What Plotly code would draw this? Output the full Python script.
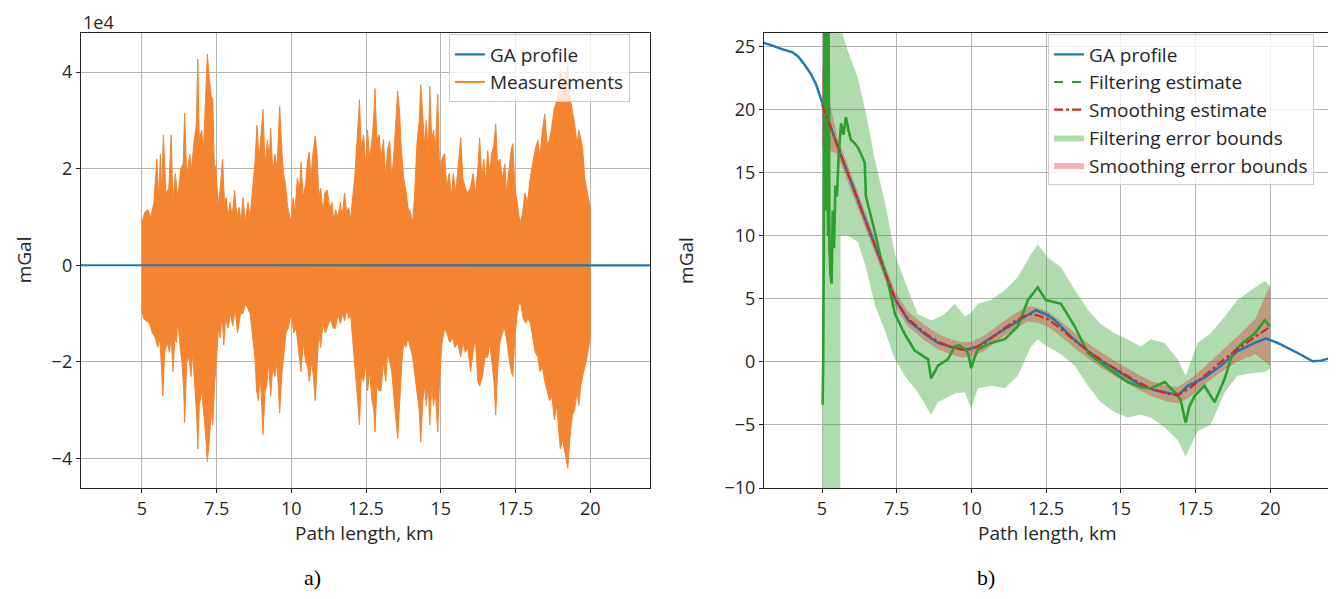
import plotly.graph_objects as go

# a) measurements: upper and lower edges of the point cloud, read off the picture (units of 1e4 mGal)
meas_top_x = [5.0, 5.1, 5.2, 5.3, 5.4, 5.5, 5.56, 5.62, 5.66, 5.72, 5.8, 5.9, 5.98, 6.04, 6.12, 6.2,
              6.3, 6.38, 6.43, 6.5, 6.6, 6.66, 6.75, 6.82, 6.87, 6.92, 7.0, 7.06, 7.12, 7.19, 7.25,
              7.32, 7.37, 7.42, 7.48, 7.55, 7.62, 7.7, 7.76, 7.82, 7.88, 7.95, 8.02, 8.1, 8.18,
              8.25, 8.32, 8.38, 8.46, 8.55, 8.62, 8.7, 8.78, 8.85, 8.92, 9.0, 9.05, 9.12, 9.2,
              9.26, 9.31, 9.38, 9.45, 9.52, 9.61, 9.68, 9.74, 9.8, 9.88, 9.99, 10.06, 10.12, 10.2,
              10.28, 10.32, 10.4, 10.48, 10.55, 10.6, 10.66, 10.72, 10.8, 10.86, 10.92, 10.98,
              11.06, 11.12, 11.2, 11.28, 11.36, 11.42, 11.48, 11.56, 11.64, 11.7, 11.78, 11.85,
              11.92, 11.98, 12.05, 12.12, 12.2, 12.28, 12.34, 12.42, 12.5, 12.55, 12.62, 12.7,
              12.76, 12.8, 12.86, 12.94, 13.0, 13.08, 13.16, 13.22, 13.29, 13.36, 13.42, 13.5,
              13.56, 13.62, 13.68, 13.76, 13.83, 13.9, 13.98, 14.06, 14.12, 14.2, 14.28, 14.33,
              14.4, 14.46, 14.52, 14.58, 14.63, 14.7, 14.76, 14.82, 14.9, 14.96, 15.04, 15.13,
              15.2, 15.28, 15.36, 15.42, 15.5, 15.58, 15.67, 15.74, 15.82, 15.9, 16.0, 16.08,
              16.16, 16.24, 16.3, 16.38, 16.44, 16.5, 16.57, 16.64, 16.7, 16.78, 16.84, 16.9,
              16.98, 17.06, 17.14, 17.2, 17.28, 17.36, 17.41, 17.48, 17.56, 17.62, 17.68, 17.74,
              17.82, 17.9, 18.0, 18.08, 18.16, 18.25, 18.32, 18.4, 18.48, 18.56, 18.64, 18.72,
              18.8, 18.88, 18.94, 19.0, 19.08, 19.16, 19.25, 19.32, 19.4, 19.48, 19.56, 19.62,
              19.68, 19.75, 19.82, 19.9, 19.96, 20.0]
meas_top = [0.9, 1.1, 1.15, 1.0, 1.3, 2.2, 1.4, 2.3, 1.5, 2.7, 1.5, 1.6, 2.7, 1.3, 1.9, 1.4,
            2.0, 2.1, 3.15, 1.8, 2.3, 2.0, 2.6, 2.9, 4.27, 2.6, 2.8, 2.4, 3.3, 4.37, 3.9,
            3.5, 3.45, 2.1, 2.0, 1.2, 1.6, 2.2, 1.3, 1.4, 1.0, 1.3, 1.0, 1.55, 1.0,
            1.2, 0.9, 1.4, 0.9, 1.3, 1.0, 1.6, 2.1, 2.9, 2.2, 2.8, 3.23, 2.1, 2.6,
            2.2, 2.84, 1.9, 2.3, 2.0, 3.29, 2.4, 1.9, 1.7, 1.2, 0.9, 1.4, 1.1, 1.8,
            1.6, 2.13, 1.4, 1.7, 2.2, 2.34, 1.8, 2.3, 2.68, 2.3, 1.4, 1.6,
            1.1, 1.5, 1.56, 1.2, 1.3, 0.9, 1.15, 1.0, 1.3, 1.0, 1.5, 1.1,
            1.2, 0.95, 1.4, 1.8, 2.6, 3.43, 2.4, 2.7, 2.0, 2.8, 2.2, 2.6,
            3.1, 3.66, 2.6, 2.7, 2.2, 2.6, 1.8, 2.4, 2.58, 1.8, 2.2, 3.1,
            3.6, 3.2, 2.4, 1.8, 1.56, 1.2, 1.1, 0.9, 1.4, 2.5, 3.0, 3.74,
            3.0, 2.5, 3.0, 2.2, 3.7, 2.6, 2.8, 2.4, 3.54, 2.0, 2.2, 2.32,
            1.6, 1.9, 1.4, 1.9, 1.5, 2.0, 2.64, 1.8, 1.6, 1.5, 1.62, 1.9,
            1.5, 2.0, 2.64, 1.8, 2.2, 1.7, 2.38, 1.9, 2.3, 2.5, 2.93, 2.1,
            2.2, 1.8, 2.1, 1.5, 2.0, 2.4, 2.52, 1.6, 1.3, 1.0, 0.9, 1.1,
            1.5, 1.3, 1.83, 2.1, 2.4, 2.6, 2.2, 2.8, 3.13, 2.5, 2.6, 2.9,
            3.25, 3.4, 3.6, 4.06, 3.7, 3.9, 4.15, 3.5, 3.2, 2.93, 2.5, 2.8,
            2.64, 2.4, 1.8, 1.5, 1.3, 1.2]

meas_bot_x = [5.0, 5.05, 5.15, 5.25, 5.35, 5.45, 5.53, 5.6, 5.66, 5.7, 5.76, 5.85, 5.92, 5.98,
              6.04, 6.1, 6.16, 6.2, 6.28, 6.34, 6.4, 6.43, 6.5, 6.58, 6.64, 6.7, 6.78, 6.84,
              6.87, 6.92, 7.0, 7.06, 7.12, 7.19, 7.26, 7.32, 7.37, 7.44, 7.5, 7.56, 7.62, 7.68,
              7.74, 7.8, 7.88, 7.96, 8.04, 8.12, 8.2, 8.3, 8.38, 8.46, 8.55, 8.62, 8.7, 8.78,
              8.84, 8.9, 8.96, 9.05, 9.12, 9.18, 9.24, 9.31, 9.38, 9.45, 9.52, 9.61, 9.68, 9.74,
              9.82, 9.9, 9.99, 10.08, 10.16, 10.24, 10.32, 10.4, 10.48, 10.55, 10.6, 10.68,
              10.74, 10.8, 10.86, 10.92, 10.98, 11.06, 11.14, 11.2, 11.3, 11.4, 11.48, 11.56,
              11.64, 11.72, 11.78, 11.86, 11.92, 11.98, 12.06, 12.14, 12.22, 12.28, 12.34, 12.42,
              12.5, 12.55, 12.62, 12.7, 12.76, 12.8, 12.86, 12.94, 13.0, 13.08, 13.16, 13.22,
              13.29, 13.36, 13.42, 13.5, 13.56, 13.62, 13.7, 13.76, 13.83, 13.9, 13.98, 14.06,
              14.14, 14.2, 14.28, 14.33, 14.4, 14.46, 14.52, 14.58, 14.63, 14.7, 14.76, 14.82,
              14.9, 14.96, 15.04, 15.13, 15.2, 15.3, 15.4, 15.47, 15.56, 15.67, 15.74, 15.82,
              15.9, 16.0, 16.08, 16.16, 16.24, 16.3, 16.4, 16.48, 16.57, 16.64, 16.72, 16.78,
              16.84, 16.9, 16.98, 17.06, 17.14, 17.22, 17.3, 17.36, 17.41, 17.48, 17.56, 17.62,
              17.68, 17.76, 17.84, 17.92, 18.0, 18.08, 18.16, 18.25, 18.32, 18.4, 18.48, 18.56,
              18.64, 18.72, 18.8, 18.88, 18.94, 19.0, 19.08, 19.16, 19.25, 19.32, 19.4, 19.48,
              19.56, 19.62, 19.68, 19.75, 19.82, 19.9, 19.96, 20.0]
meas_bot = [-0.9, -1.1, -1.15, -1.2, -1.4, -1.5, -1.7, -1.5, -2.2, -2.7, -1.8, -1.6, -1.8, -1.5,
            -2.2, -1.5, -1.6, -1.1, -1.7, -2.0, -2.6, -3.25, -2.0, -1.9, -2.3, -1.8, -2.6, -3.2,
            -3.8, -2.9, -2.6, -3.0, -3.4, -4.06, -3.6, -3.0, -3.3, -2.4, -1.9, -1.3, -1.5, -1.0,
            -1.65, -1.1, -1.3, -1.0, -1.25, -0.9, -1.4, -1.0, -1.0, -0.8, -0.9, -1.0, -1.5, -1.9,
            -2.6, -2.8, -2.2, -3.5, -2.6, -2.5, -2.0, -2.7, -2.1, -2.3, -2.0, -3.05, -2.3, -1.9,
            -1.4, -1.3, -1.0, -1.4, -1.3, -1.8, -2.2, -1.6, -2.0, -2.1, -2.4, -2.0,
            -2.3, -2.8, -2.2, -1.4, -1.7, -1.2, -1.4, -1.3, -1.1, -1.3, -1.3, -1.0,
            -1.2, -1.0, -1.15, -0.9, -1.1, -1.0, -1.6, -2.2, -2.8, -3.3, -2.3, -2.4,
            -2.0, -2.6, -2.2, -2.8, -3.0, -3.45, -2.5, -2.6, -2.6, -2.0, -2.4, -1.8,
            -2.0, -2.2, -2.6, -3.2, -3.58, -3.0, -2.0, -1.6, -1.7, -1.5, -1.7, -1.9,
            -2.2, -2.6, -3.0, -3.66, -2.8, -2.5, -2.9, -2.4, -3.3, -2.5, -2.9, -2.6,
            -3.45, -2.4, -1.6, -1.3, -1.4, -1.6, -1.5, -1.7, -1.6, -1.9, -1.6, -1.8,
            -1.7, -2.2, -1.8, -1.5, -2.4, -2.5, -2.3, -1.9, -1.9, -1.6, -2.0, -2.4,
            -3.1, -2.2, -1.6, -1.4, -1.3, -1.6, -2.0, -2.2, -2.3, -1.5, -1.0, -0.8,
            -0.8, -1.1, -1.2, -1.1, -1.2, -1.5, -1.8, -1.9, -2.2, -2.1, -2.4, -2.6,
            -2.8, -2.7, -3.2, -2.9, -3.3, -3.8, -3.6, -3.9, -4.2, -3.6, -3.1, -3.0,
            -2.6, -2.9, -2.5, -2.3, -2.1, -1.9, -1.7, -1.5]

# GA profile (mGal)
ga_x = [2.95, 3.3, 3.63, 4.0, 4.2, 4.4, 4.63, 4.8, 5.0, 5.5, 6.0, 6.5, 7.0, 7.44, 7.88, 8.44,
        8.88, 9.3, 9.6, 9.88, 10.2, 10.45, 11.12, 11.79, 12.16, 12.55, 12.79, 13.33, 13.9, 14.46,
        15.0, 15.57, 16.14, 16.67, 16.97, 17.24, 17.8, 18.35, 18.91, 19.48, 19.85, 20.25, 20.92,
        21.42, 21.7, 22.0]
ga_y = [25.35, 25.1, 24.8, 24.55, 24.2, 23.6, 22.8, 22.0, 20.6, 17.2, 14.1, 10.9, 7.8, 5.0, 3.3, 2.2,
        1.5, 1.2, 1.05, 1.0, 1.2, 1.6, 2.6, 3.6, 4.1, 3.7, 3.3, 2.0, 0.85, -0.1,
        -0.9, -1.7, -2.25, -2.5, -2.55, -1.9, -1.25, -0.3, 0.85, 1.5, 1.85, 1.5, 0.7,
        0.05, 0.1, 0.3]

# b) filtering estimate
fe_x = [5.02, 5.04, 5.06, 5.08, 5.1, 5.12, 5.15, 5.18, 5.2, 5.22, 5.25, 5.28, 5.32, 5.36, 5.4,
        5.45, 5.5, 5.56, 5.64, 5.72, 5.8, 5.9, 5.97, 6.1, 6.2, 6.32, 6.43, 6.47, 6.55, 6.64,
        6.8, 6.97, 7.2, 7.44, 7.77, 8.1, 8.38, 8.55, 8.65, 8.88, 9.21, 9.44, 9.6, 9.78, 9.9,
        9.99, 10.1, 10.22, 10.66, 11.12, 11.55, 11.89, 12.05, 12.22, 12.49, 13.0, 13.46, 13.9,
        14.33, 14.8, 15.23, 15.67, 16.0, 16.47, 16.8, 17.0, 17.17, 17.3, 17.47, 17.8, 18.14,
        18.48, 18.74, 19.08, 19.48, 19.82, 19.99]
fe_y = [-3.4, 0.0, 9.0, 27.0, 18.0, 12.0, 27.5, 15.0, 10.0, 26.5, 9.0, 7.0, 6.2, 12.0, 9.0,
        14.0, 13.1, 16.5, 18.9, 18.0, 19.4, 18.2, 17.6, 17.3, 17.0, 16.4, 15.8, 13.1, 12.4, 11.6,
        10.0, 8.2, 6.4, 3.8, 2.2, 0.9, 0.5, 0.2, -1.3, -0.3, 0.2, 1.2, 1.3, 1.0, 0.6,
        -0.5, 0.3, 1.0, 1.5, 1.8, 2.8, 4.9, 5.4, 5.9, 4.9, 4.6, 2.8, 0.7,
        -0.1, -0.9, -1.6, -2.0, -2.1, -1.6, -2.4, -3.0, -4.8, -3.5, -2.7, -1.9, -3.2,
        -1.3, 0.7, 1.5, 2.25, 3.3, 2.8]

# filtering error bounds
fb_x = [5.03, 5.05, 5.5, 5.6, 5.62, 5.87, 6.2, 6.47, 6.77, 7.1, 7.44, 7.77, 8.2, 8.65, 8.88,
        9.1, 9.44, 9.78, 9.99, 10.22, 10.66, 11.12, 11.55, 11.99, 12.22, 12.55, 13.0, 13.46,
        13.9, 14.33, 14.8, 15.23, 15.67, 16.0, 16.47, 16.9, 17.17, 17.57, 18.0, 18.48, 18.9,
        19.37, 19.82, 20.0]
fb_hi = [40, 40, 40, 27, 26.5, 24.6, 22.5, 19.7, 16.0, 12.7, 8.5, 6.4, 3.8, 3.3, 3.5,
         3.8, 4.6, 3.6, 3.9, 4.6, 4.9, 5.7, 6.7, 8.5, 9.3, 8.3, 7.5, 5.7,
         4.1, 3.0, 2.25, 1.8, 1.2, 1.8, 1.5, 0.2, -1.1, 1.5, 2.25, 3.6, 4.9,
         5.7, 6.4, 6.0]
fb_lo = [-40, -40, -40, -40, 10, 10, 9.5, 7.5, 4.5, 2.5, 0.2, -1.1, -2.4, -4.2, -3.2,
         -2.9, -2.5, -2.4, -3.7, -2.1, -1.9, -2.1, -1.1, 1.2, 1.8, 1.2, 0.6, -0.3,
         -1.9, -3.2, -4.0, -4.4, -4.2, -4.4, -5.2, -6.2, -7.5, -5.5, -5.0, -2.4, -1.1,
         -0.9, -0.8, -0.5]

# smoothing estimate and its error bounds
sm_x = [5.0, 5.5, 6.0, 6.5, 7.0, 7.44, 7.88, 8.44, 8.88, 9.3, 9.7, 10.0, 10.45, 11.12, 11.5, 11.9,
        12.2, 12.55, 13.0, 13.5, 14.0, 14.5, 15.0, 15.5, 16.0, 16.5, 16.9, 17.3, 17.8, 18.35,
        18.9, 19.5, 20.0]
sm_y = [20.4, 17.2, 14.1, 10.9, 7.8, 5.0, 3.4, 2.3, 1.6, 1.2, 0.95, 1.0, 1.5, 2.7, 3.3, 3.8,
        3.7, 3.4, 2.6, 1.6, 0.7, -0.1, -0.8, -1.5, -2.1, -2.5, -2.65, -2.1, -1.1, 0.0,
        1.0, 2.0, 2.8]
sb_lo = [17.0, 16.5, 13.5, 10.3, 7.2, 4.4, 2.8, 1.7, 1.0, 0.6, 0.35, 0.4, 0.9, 2.1, 2.7, 3.2,
         3.1, 2.8, 2.0, 1.0, 0.1, -0.7, -1.4, -2.1, -2.7, -3.1, -3.3, -2.8, -1.8, -0.8,
         0.0, 0.6, -0.3]
sb_hi = [23.5, 17.9, 14.7, 11.5, 8.4, 5.6, 4.0, 2.9, 2.2, 1.8, 1.55, 1.6, 2.1, 3.3, 3.9, 4.4,
         4.3, 4.0, 3.2, 2.2, 1.3, 0.5, -0.2, -0.9, -1.5, -1.9, -2.0, -1.4, -0.4, 0.8,
         2.0, 3.4, 6.1]

x_ticks = [5, 7.5, 10, 12.5, 15, 17.5, 20]

BLUE = '#1f77b4'
ORANGE = '#f4842f'
GREEN = '#2ca02c'
RED = '#d62728'
INK = '#262626'
FONT = 'Open Sans'
GREEN_FILL = 'rgba(44,160,44,0.38)'
RED_FILL = 'rgba(214,39,40,0.35)'

fig = go.Figure()

# ---- left panel
fig.add_trace(go.Scatter(x=meas_top_x + meas_bot_x[::-1], y=meas_top + meas_bot[::-1],
                         fill='toself', fillcolor=ORANGE, mode='lines',
                         line=dict(color=ORANGE, width=1), showlegend=False,
                         xaxis='x', yaxis='y'))
fig.add_trace(go.Scatter(x=ga_x, y=[v / 1e4 for v in ga_y], mode='lines',
                         line=dict(color=BLUE, width=2.2), name='GA profile',
                         xaxis='x', yaxis='y', legend='legend'))
fig.add_trace(go.Scatter(x=[None], y=[None], mode='lines', line=dict(color=ORANGE, width=2.2),
                         name='Measurements', xaxis='x', yaxis='y', legend='legend'))

# ---- right panel
fig.add_trace(go.Scatter(x=fb_x + fb_x[::-1], y=fb_hi + fb_lo[::-1], fill='toself',
                         fillcolor=GREEN_FILL, mode='lines', line=dict(width=0),
                         showlegend=False, xaxis='x2', yaxis='y2'))
fig.add_trace(go.Scatter(x=sm_x + sm_x[::-1], y=sb_hi + sb_lo[::-1], fill='toself',
                         fillcolor=RED_FILL, mode='lines', line=dict(width=0),
                         showlegend=False, xaxis='x2', yaxis='y2'))
fig.add_trace(go.Scatter(x=ga_x, y=ga_y, mode='lines', line=dict(color=BLUE, width=2.4),
                         showlegend=False, xaxis='x2', yaxis='y2'))
fig.add_trace(go.Scatter(x=fe_x, y=fe_y, mode='lines', line=dict(color=GREEN, width=2.6),
                         showlegend=False, xaxis='x2', yaxis='y2'))
fig.add_trace(go.Scatter(x=sm_x, y=sm_y, mode='lines',
                         line=dict(color=RED, width=2.2, dash='dashdot'),
                         showlegend=False, xaxis='x2', yaxis='y2'))

# legend-only entries for panel b
fig.add_trace(go.Scatter(x=[None], y=[None], mode='lines', line=dict(color=BLUE, width=2.2),
                         name='GA profile', xaxis='x2', yaxis='y2', legend='legend2'))
fig.add_trace(go.Scatter(x=[None], y=[None], mode='lines', line=dict(color=GREEN, width=2.2, dash='dash'),
                         name='Filtering estimate', xaxis='x2', yaxis='y2', legend='legend2'))
fig.add_trace(go.Scatter(x=[None], y=[None], mode='lines', line=dict(color=RED, width=2.2, dash='dashdot'),
                         name='Smoothing estimate', xaxis='x2', yaxis='y2', legend='legend2'))
fig.add_trace(go.Scatter(x=[None, None], y=[None, None], fill='toself', mode='lines', line=dict(width=0),
                         fillcolor=GREEN_FILL, name='Filtering error bounds',
                         xaxis='x2', yaxis='y2', legend='legend2'))
fig.add_trace(go.Scatter(x=[None, None], y=[None, None], fill='toself', mode='lines', line=dict(width=0),
                         fillcolor=RED_FILL, name='Smoothing error bounds',
                         xaxis='x2', yaxis='y2', legend='legend2'))

axis_style = dict(showline=True, mirror=True, linecolor=INK, linewidth=1.3,
                  ticks='outside', ticklen=4, tickcolor=INK, tickwidth=1.2,
                  showgrid=True, gridcolor='#b4b4b4', gridwidth=1, zeroline=False,
                  tickfont=dict(family=FONT, size=18, color=INK))

ydom = [0.1836, 0.9583]
legend_style = dict(yanchor='top', xanchor='right', y=0.955,
                    bgcolor='rgba(255,255,255,0.8)', bordercolor='#cccccc', borderwidth=1,
                    font=dict(family=FONT, size=19, color=INK))
fig.update_layout(
    width=1336, height=599,
    margin=dict(l=0, r=0, t=0, b=0),
    paper_bgcolor='white', plot_bgcolor='white',
    font=dict(family=FONT, color=INK),
    xaxis=dict(domain=[0.0546, 0.4805], range=[2.96, 22.0], tickvals=x_ticks, anchor='y', **axis_style),
    yaxis=dict(domain=ydom, range=[-4.61, 4.82], tickvals=[-4, -2, 0, 2, 4], anchor='x', **axis_style),
    xaxis2=dict(domain=[0.5659, 0.9895], range=[3.06, 22.0], tickvals=x_ticks, anchor='y2', **axis_style),
    yaxis2=dict(domain=ydom, range=[-10, 26.1], tickvals=[-10, -5, 0, 5, 10, 15, 20, 25],
                anchor='x2', **axis_style),
    legend=dict(x=0.4655, **legend_style),
    legend2=dict(x=0.9776, **legend_style),
)

# 1e4 offset label above the left panel
fig.add_annotation(text='1e4', x=0.0546, y=1.0, xref='paper', yref='paper', showarrow=False,
                   xanchor='left', yanchor='top', font=dict(family=FONT, size=18, color=INK))

# axis titles
for txt, xp, yp, ang in [('mGal', 0.012, 0.571, -90), ('mGal', 0.508, 0.571, -90),
                         ('Path length, km', 0.267, 0.107, 0), ('Path length, km', 0.7777, 0.107, 0)]:
    fig.add_annotation(text=txt, x=xp, y=yp, xref='paper', yref='paper', showarrow=False,
                       xanchor='center', yanchor='middle', textangle=ang,
                       font=dict(family=FONT, size=19, color=INK))

for lbl, xp in [('a)', 0.228), ('b)', 0.732)]:
    fig.add_annotation(text=lbl, x=xp, y=0.0317, xref='paper', yref='paper', showarrow=False,
                       xanchor='center', yanchor='middle',
                       font=dict(family='Liberation Serif', size=22, color='black'))

fig.write_html("out.html")
